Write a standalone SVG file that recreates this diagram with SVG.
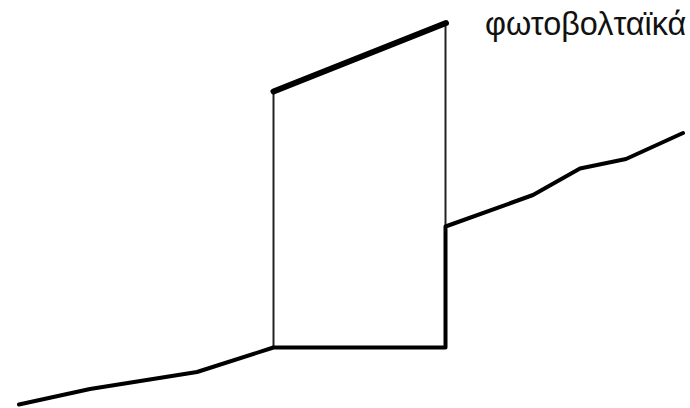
<svg xmlns="http://www.w3.org/2000/svg" width="690" height="408" viewBox="0 0 690 408"><style>.l{fill:none;stroke:#000;stroke-linejoin:round;stroke-linecap:round}</style><rect width="690" height="408" fill="#fff"/><g id="walls"><path class="l" style="stroke:#222" stroke-width="2" d="M273.500 92V347M445.500 23V226"/></g><g id="panel"><path class="l" stroke-width="6" d="M273.500 91.500L446 23"/></g><g id="ground"><path class="l" stroke-width="4" d="M19 404.500L90 389L197 372L273.500 347.500H445.500V226.500L533 195L580 168.500L626 159L683 133"/></g><text x="485" y="35" font-family="Liberation Sans, sans-serif" font-size="32.400" fill="#111">φωτοβολταϊκά</text></svg>
